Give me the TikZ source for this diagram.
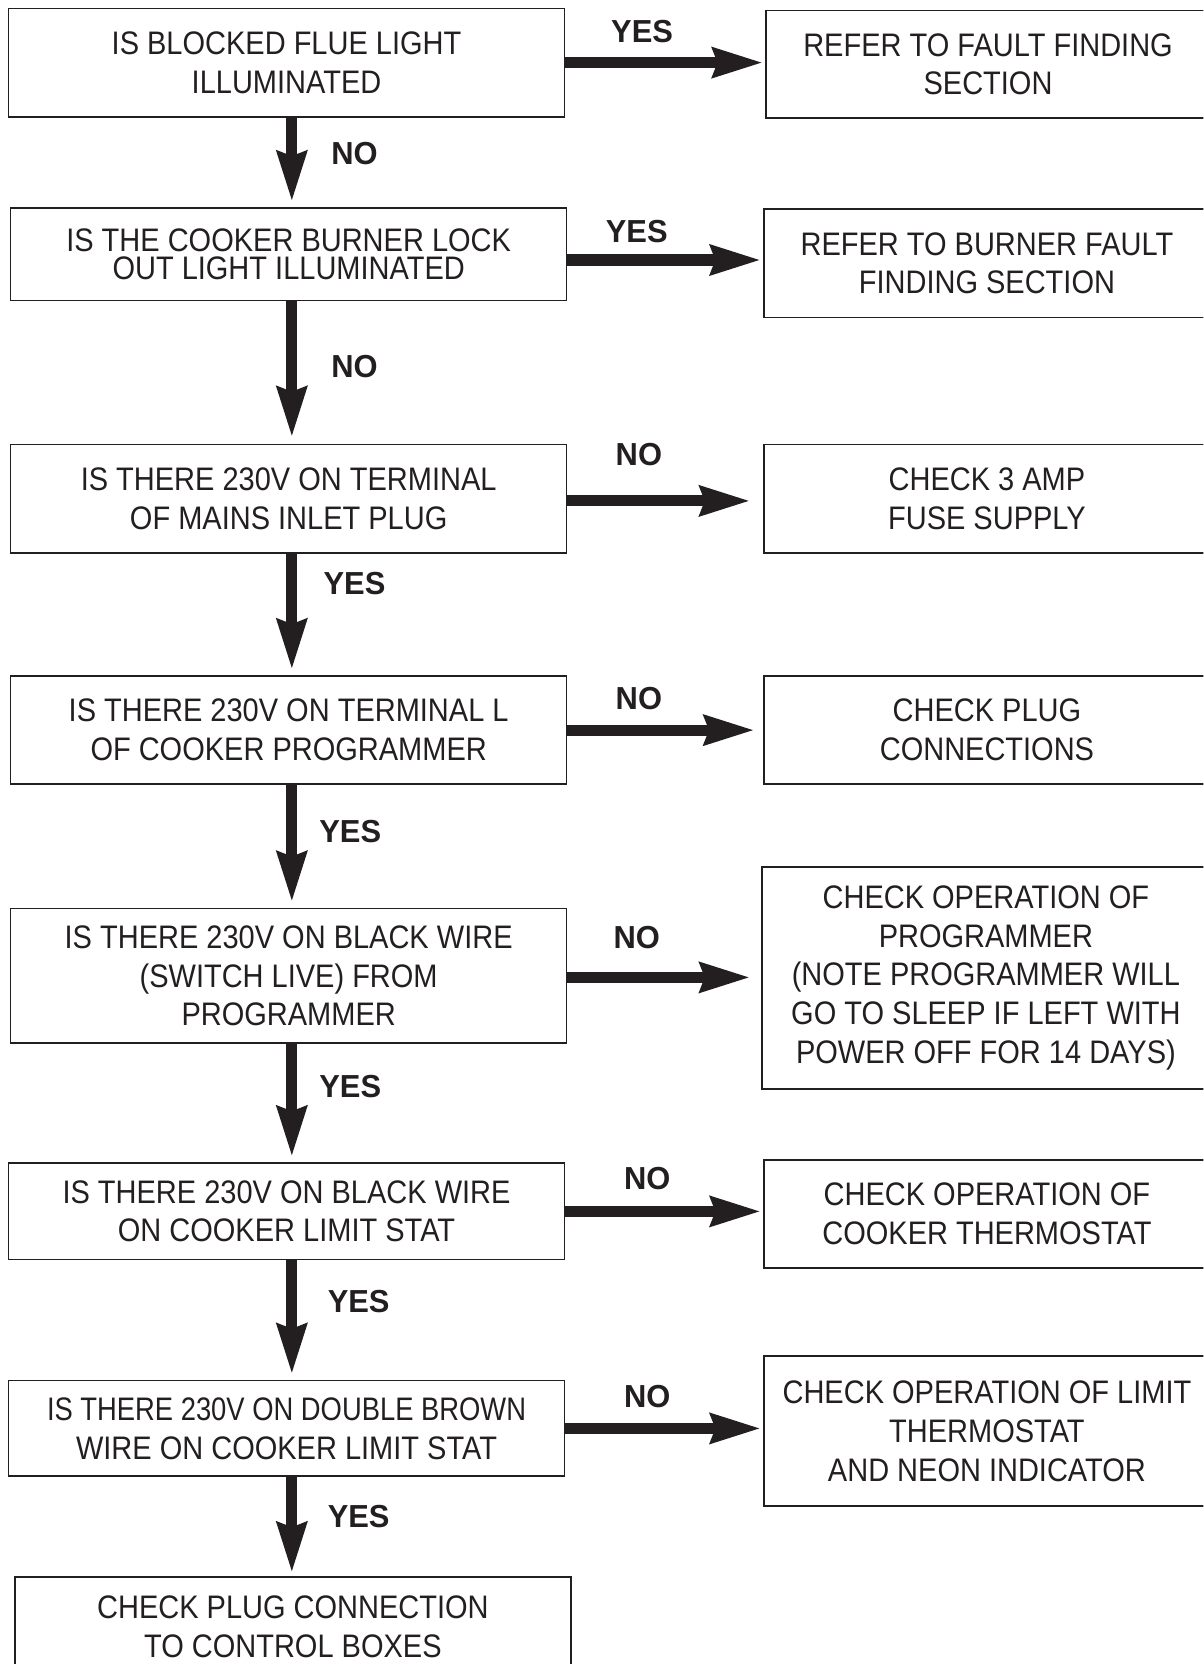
\documentclass[tikz,border=0pt]{standalone}
\usepackage{fontspec}
\setmainfont{Liberation Sans}[FakeStretch=0.89]
\newfontfamily\narrowfont{Liberation Sans}[FakeStretch=0.84]
\newfontfamily\lblfont{Liberation Sans}[FakeStretch=0.97]
\usetikzlibrary{arrows.meta}
\definecolor{ink}{RGB}{35,31,32}
\begin{document}
\begin{tikzpicture}[x=1pt,y=-1pt,
  box/.style={draw=ink, line width=1.5pt, inner sep=0pt, align=center,
    text=ink, font=\fontsize{30.7}{36.5}\selectfont},
  lbl/.style={text=ink, inner sep=0pt, font=\lblfont\bfseries\fontsize{30}{30}\selectfont},
  flow/.style={draw=ink, line width=10.5pt, -{Stealth[length=47pt,width=27pt,inset=4pt]}}
]
\useasboundingbox (0,0) rectangle (1134,1568);
\clip (0,0) rectangle (1134,1568);
\fill[white] (0,0) rectangle (1134,1568);

% question boxes
\node[box, minimum width=524pt, minimum height=102pt] (Q1) at (270,59)
  {IS BLOCKED FLUE LIGHT\\ILLUMINATED};
\node[box, minimum width=524pt, minimum height=87pt,
  font=\fontsize{30.7}{27}\selectfont] (Q2) at (272,239.5)
  {IS THE COOKER BURNER LOCK\\OUT LIGHT ILLUMINATED};
\node[box, minimum width=524pt, minimum height=102pt] (Q3) at (272,470)
  {IS THERE 230V ON TERMINAL\\OF MAINS INLET PLUG};
\node[box, minimum width=524pt, minimum height=102pt] (Q4) at (272,688)
  {IS THERE 230V ON TERMINAL L\\OF COOKER PROGRAMMER};
\node[box, minimum width=524pt, minimum height=127pt] (Q5) at (272,919.5)
  {IS THERE 230V ON BLACK WIRE\\(SWITCH LIVE) FROM\\PROGRAMMER};
\node[box, minimum width=524pt, minimum height=91pt] (Q6) at (270,1141.5)
  {IS THERE 230V ON BLACK WIRE\\ON COOKER LIMIT STAT};
\node[box, minimum width=524pt, minimum height=90pt] (Q7) at (270,1346)
  {{\narrowfont IS THERE 230V ON DOUBLE BROWN}\\WIRE ON COOKER LIMIT STAT};
\node[box, minimum width=524pt, minimum height=94pt] (Q8) at (276,1533)
  {CHECK PLUG CONNECTION\\TO CONTROL BOXES};

% result boxes
\node[box, minimum width=418pt, minimum height=101pt] (R1) at (931,60.5)
  {REFER TO FAULT FINDING\\SECTION};
\node[box, minimum width=420pt, minimum height=102pt] (R2) at (930,248)
  {REFER TO BURNER FAULT\\FINDING SECTION};
\node[box, minimum width=420pt, minimum height=102pt] (R3) at (930,470)
  {CHECK 3 AMP\\FUSE SUPPLY};
\node[box, minimum width=420pt, minimum height=102pt] (R4) at (930,688)
  {CHECK PLUG\\CONNECTIONS};
\node[box, minimum width=422pt, minimum height=209pt] (R5) at (929,921.5)
  {CHECK OPERATION OF\\PROGRAMMER\\(NOTE PROGRAMMER WILL\\GO TO SLEEP IF LEFT WITH\\POWER OFF FOR 14 DAYS)};
\node[box, minimum width=420pt, minimum height=102pt] (R6) at (930,1144)
  {CHECK OPERATION OF\\COOKER THERMOSTAT};
\node[box, minimum width=420pt, minimum height=141pt] (R7) at (930,1348.5)
  {CHECK OPERATION OF LIMIT\\THERMOSTAT\\AND NEON INDICATOR};

% vertical connectors
\coordinate (ax) at (275,0);
\draw[flow, shorten >=5pt] (Q1.south -| ax) -- (Q2.north -| ax);
\draw[flow, shorten >=6pt] (Q2.south -| ax) -- (Q3.north -| ax);
\draw[flow, shorten >=5pt] (Q3.south -| ax) -- (Q4.north -| ax);
\draw[flow, shorten >=5pt] (Q4.south -| ax) -- (Q5.north -| ax);
\draw[flow, shorten >=5pt] (Q5.south -| ax) -- (Q6.north -| ax);
\draw[flow, shorten >=5pt] (Q6.south -| ax) -- (Q7.north -| ax);
\draw[flow, shorten >=3pt] (Q7.south -| ax) -- (Q8.north -| ax);

% horizontal connectors
\draw[flow, shorten >=2pt] (Q1.east) -- (Q1.east -| R1.west);
\draw[flow, shorten >=2pt] ([yshift=-5.5pt]Q2.east) -- ([yshift=-5.5pt]Q2.east -| R2.west);
\draw[flow, shorten >=12pt] ([yshift=-2pt]Q3.east) -- ([yshift=-2pt]Q3.east -| R3.west);
\draw[flow, shorten >=8pt] (Q4.east) -- (Q4.east -| R4.west);
\draw[flow, shorten >=10pt] ([yshift=-1.5pt]Q5.east) -- ([yshift=-1.5pt]Q5.east -| R5.west);
\draw[flow, shorten >=2pt] (Q6.east) -- (Q6.east -| R6.west);
\draw[flow, shorten >=2pt] (Q7.east) -- (Q7.east -| R7.west);

% labels
\node[lbl] (y1) at (605,30) {YES};
\node[lbl] (n1) at (334,145) {NO};
\node[lbl] (y2) at (600,218) {YES};
\node[lbl] (n2) at (334,345) {NO};
\node[lbl] (n3) at (602,428) {NO};
\node[lbl] (y3) at (334,550) {YES};
\node[lbl] (n4) at (602,658) {NO};
\node[lbl] (y4) at (330,784) {YES};
\node[lbl] (n5) at (600,883) {NO};
\node[lbl] (y5) at (330,1024) {YES};
\node[lbl] (n6) at (610,1111) {NO};
\node[lbl] (y6) at (338,1226) {YES};
\node[lbl] (n7) at (610,1316) {NO};
\node[lbl] (y7) at (338,1429) {YES};
\end{tikzpicture}
\end{document}
